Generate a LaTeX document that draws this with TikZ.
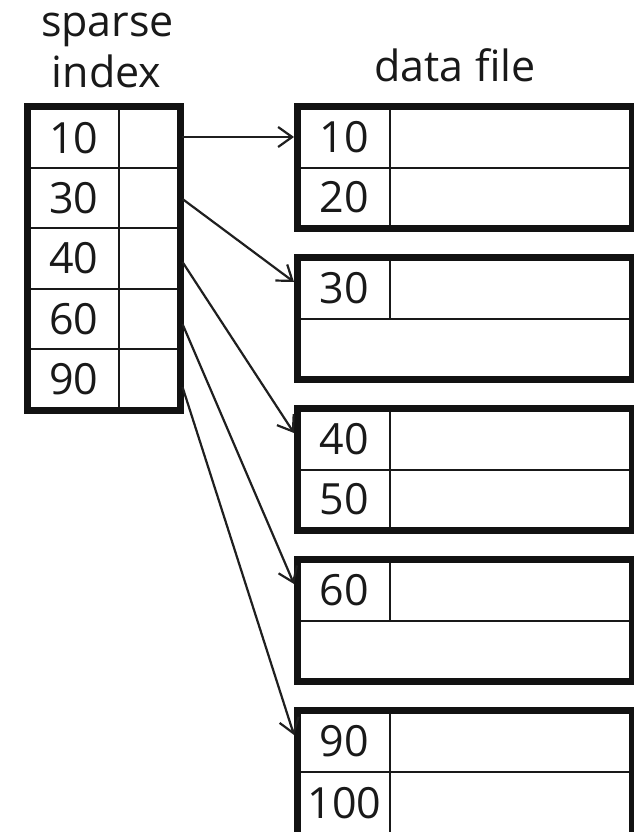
\documentclass[tikz,border=0pt]{standalone}
\usepackage{fontspec}
\setmainfont{Open Sans}
\usetikzlibrary{arrows.meta}
\begin{document}
\begin{tikzpicture}[x=1pt,y=-1pt,
  txt/.style={font=\fontsize{43}{50}\selectfont, text=black!90, inner sep=0pt},
  cell/.style={draw=black!90, line width=2pt, minimum height=60.4pt, inner sep=0pt, anchor=north west, font=\fontsize{43}{50}\selectfont, text=black!90},
  dcell/.style={draw=black!90, line width=2pt, minimum height=60pt, inner sep=0pt, anchor=north west, font=\fontsize{43}{50}\selectfont, text=black!90},
  border/.style={draw=black!93, line width=7pt},
  ptr/.style={draw=black!88, line width=2.2pt, -{Straight Barb[length=14pt,width=20pt,line width=2.2pt]}}
]
\useasboundingbox (0,0) rectangle (634,832);

% titles
\node[txt, anchor=base] (t1) at (107.5,36.7) {sparse};
\node[txt, anchor=base] (t2) at (106.5,88) {index};
\node[txt, anchor=base] (t3) at (455,81.7) {data file};

% sparse index
\foreach \k/\v in {0/10,1/30,2/40,3/60,4/90}{
  \node[cell, minimum width=90.2pt] (i\v) at (27.5,106.5+60.4*\k) {\v};
  \node[cell, minimum width=60.8pt] (p\v) at (117.7,106.5+60.4*\k) {};
}
\draw[border] (i10.north west) rectangle (p90.south east);

% data blocks
% block 1
\node[dcell, minimum width=91.8pt] (d10) at (297.5,106.5) {10};
\node[dcell, minimum width=241.2pt] (v10) at (389.3,106.5) {};
\node[dcell, minimum width=91.8pt] (d20) at (297.5,166.5) {20};
\node[dcell, minimum width=241.2pt] (v20) at (389.3,166.5) {};
\draw[border] (d10.north west) rectangle (v20.south east);
% block 2
\node[dcell, minimum width=91.8pt] (d30) at (297.5,257.5) {30};
\node[dcell, minimum width=241.2pt] (v30) at (389.3,257.5) {};
\node[dcell, minimum width=333pt] (e30) at (297.5,317.5) {};
\draw[border] (d30.north west) rectangle (e30.south east);
% block 3
\node[dcell, minimum width=91.8pt] (d40) at (297.5,408.5) {40};
\node[dcell, minimum width=241.2pt] (v40) at (389.3,408.5) {};
\node[dcell, minimum width=91.8pt] (d50) at (297.5,468.5) {50};
\node[dcell, minimum width=241.2pt] (v50) at (389.3,468.5) {};
\draw[border] (d40.north west) rectangle (v50.south east);
% block 4
\node[dcell, minimum width=91.8pt] (d60) at (297.5,559.5) {60};
\node[dcell, minimum width=241.2pt] (v60) at (389.3,559.5) {};
\node[dcell, minimum width=333pt] (e60) at (297.5,619.5) {};
\draw[border] (d60.north west) rectangle (e60.south east);
% block 5 (its bottom edge runs past the picture's lower edge)
\node[dcell, minimum width=91.8pt] (d90) at (297.5,710.5) {90};
\node[dcell, minimum width=241.2pt] (v90) at (389.3,710.5) {};
\node[dcell, minimum width=91.8pt, minimum height=66pt] (d100) at (297.5,770.5) {\raisebox{3pt}{100}};
\node[dcell, minimum width=241.2pt, minimum height=66pt] (v100) at (389.3,770.5) {};
\draw[border] (d90.north west) rectangle (v100.south east);

% pointer ends
\coordinate (s10) at (182,137);
\coordinate (s30) at (182.5,199);
\coordinate (s40) at (182.5,262);
\coordinate (s60) at (182.5,324);
\coordinate (s90) at (182.5,387);
\coordinate (e10) at (294,137);
\coordinate (e30b) at (294,282);
\coordinate (e40) at (294,433);
\coordinate (e60b) at (294,584);
\coordinate (e90) at (294,735);

\draw[ptr] (s10) -- (e10);
\draw[ptr] (s30) -- (e30b);
\draw[ptr] (s40) -- (e40);
\draw[ptr] (s60) -- (e60b);
\draw[ptr] (s90) -- (e90);
\end{tikzpicture}
\end{document}
